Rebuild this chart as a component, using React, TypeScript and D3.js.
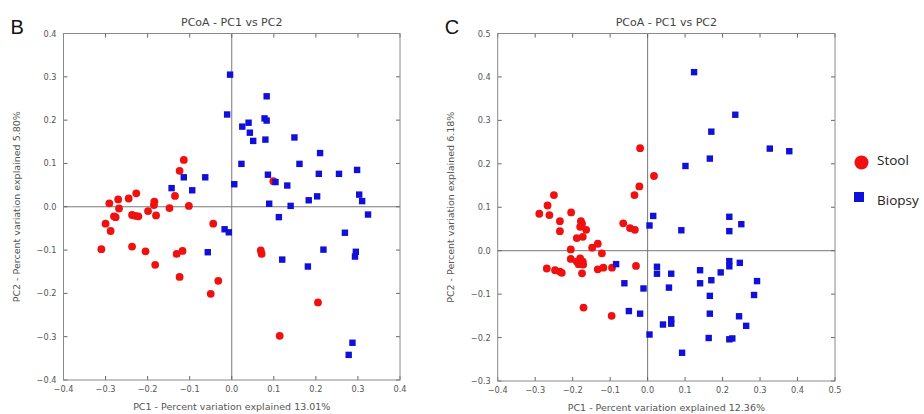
import React from "react";
import * as d3 from "d3";

type Pt = [number, number];

// Panel B: PCoA coordinates (PC1, PC2)
const stoolB: Pt[] = [
  [-0.114, 0.108], [-0.124, 0.083], [-0.135, 0.025], [-0.227, 0.031], [-0.245, 0.019],
  [-0.27, 0.017], [-0.291, 0.008], [-0.184, 0.012], [-0.185, 0.004], [-0.102, 0.002],
  [0.099, 0.059], [-0.268, -0.004], [-0.3, -0.039], [-0.28, -0.022], [-0.276, -0.024],
  [-0.288, -0.056], [-0.237, -0.019], [-0.229, -0.021], [-0.222, -0.022], [-0.199, -0.01],
  [-0.18, -0.02], [-0.148, -0.003], [-0.044, -0.039], [-0.31, -0.098], [-0.237, -0.092],
  [-0.205, -0.103], [-0.182, -0.134], [-0.131, -0.109], [-0.117, -0.102], [-0.124, -0.162],
  [-0.032, -0.171], [-0.05, -0.201], [0.069, -0.101], [0.071, -0.109], [0.205, -0.221],
  [0.114, -0.298],
];
const biopsyB: Pt[] = [
  [-0.004, 0.305], [-0.011, 0.213], [0.083, 0.255], [0.078, 0.204], [0.083, 0.199],
  [0.025, 0.185], [0.04, 0.194], [0.043, 0.171], [0.051, 0.152], [0.08, 0.155],
  [0.149, 0.16], [0.21, 0.124], [0.023, 0.099], [0.161, 0.099], [0.086, 0.074],
  [0.104, 0.057], [0.006, 0.052], [0.132, 0.049], [0.207, 0.076], [0.255, 0.076],
  [0.298, 0.085], [0.303, 0.028], [0.31, 0.013], [0.089, 0.007], [0.14, 0.002],
  [0.183, 0.015], [0.203, 0.024], [-0.063, 0.068], [-0.114, 0.068], [-0.094, 0.038],
  [-0.143, 0.043], [0.112, -0.024], [0.324, -0.018], [0.269, -0.06], [-0.017, -0.052],
  [-0.007, -0.059], [-0.057, -0.105], [0.12, -0.122], [0.218, -0.099], [0.181, -0.138],
  [0.295, -0.104], [0.293, -0.115], [0.287, -0.314], [0.278, -0.342],
];

// Panel C: PCoA coordinates (PC1, PC2)
const stoolC: Pt[] = [
  [-0.02, 0.236], [0.017, 0.172], [-0.022, 0.148], [-0.035, 0.128], [-0.25, 0.128],
  [-0.267, 0.104], [-0.289, 0.085], [-0.262, 0.082], [-0.234, 0.068], [-0.234, 0.045],
  [-0.204, 0.088], [-0.178, 0.068], [-0.175, 0.062], [-0.18, 0.055], [-0.164, 0.048],
  [-0.189, 0.029], [-0.173, 0.032], [-0.205, 0.003], [-0.133, 0.016], [-0.148, 0.007],
  [-0.122, -0.006], [-0.065, 0.063], [-0.047, 0.052], [-0.034, 0.048], [-0.205, -0.019],
  [-0.189, -0.025], [-0.18, -0.018], [-0.173, -0.025], [-0.184, -0.031], [-0.172, -0.032],
  [-0.269, -0.041], [-0.247, -0.045], [-0.234, -0.048], [-0.229, -0.051], [-0.175, -0.052],
  [-0.133, -0.043], [-0.118, -0.039], [-0.095, -0.039], [-0.031, -0.035], [-0.171, -0.131],
  [-0.096, -0.15],
];
const biopsyC: Pt[] = [
  [0.124, 0.411], [0.234, 0.313], [0.17, 0.274], [0.166, 0.212], [0.101, 0.195],
  [0.326, 0.235], [0.378, 0.229], [0.015, 0.08], [0.005, 0.058], [0.09, 0.047],
  [0.218, 0.078], [0.218, 0.045], [0.25, 0.061], [-0.084, -0.031], [0.025, -0.037],
  [0.025, -0.053], [0.063, -0.053], [0.14, -0.045], [0.218, -0.024], [0.218, -0.036],
  [0.246, -0.028], [0.195, -0.05], [0.17, -0.068], [0.14, -0.075], [-0.062, -0.075],
  [-0.011, -0.087], [0.057, -0.085], [0.166, -0.104], [0.292, -0.07], [0.284, -0.102],
  [-0.05, -0.139], [-0.02, -0.145], [0.063, -0.158], [0.063, -0.168], [0.041, -0.17],
  [0.166, -0.145], [0.244, -0.151], [0.263, -0.173], [0.005, -0.193], [0.092, -0.235],
  [0.163, -0.201], [0.218, -0.204], [0.226, -0.202],
];

const xTicksB = [-0.4, -0.3, -0.2, -0.1, 0.0, 0.1, 0.2, 0.3, 0.4];
const yTicksB = [-0.4, -0.3, -0.2, -0.1, 0.0, 0.1, 0.2, 0.3, 0.4];
const xTicksC = [-0.4, -0.3, -0.2, -0.1, 0.0, 0.1, 0.2, 0.3, 0.4, 0.5];
const yTicksC = [-0.3, -0.2, -0.1, 0.0, 0.1, 0.2, 0.3, 0.4, 0.5];

const legendLabels = ["Stool", "Biopsy"];
const RED = "#f01010";
const BLUE = "#1010d8";
const FONT = "DejaVu Sans, sans-serif";

const fmt = (v: number) => d3.format(".1f")(v).replace("-", "\u2212");

interface PanelProps {
  letter: string;
  left: number;
  right: number;
  top: number;
  bottom: number;
  xTicks: number[];
  yTicks: number[];
  stool: Pt[];
  biopsy: Pt[];
  xLabel: string;
  yLabel: string;
}

function Panel(p: PanelProps) {
  const x = d3.scaleLinear().domain([p.xTicks[0], p.xTicks[p.xTicks.length - 1]]).range([p.left, p.right]);
  const y = d3.scaleLinear().domain([p.yTicks[0], p.yTicks[p.yTicks.length - 1]]).range([p.bottom, p.top]);
  const cx = (p.left + p.right) / 2;
  const cy = (p.top + p.bottom) / 2;
  const tl = 4;
  const frame = "#8a8a8a";
  const tickColor = "#666";
  const sq = 6.4;
  return (
    <g>
      <text x={p.left - 53} y={34} fontFamily="Liberation Sans, Arial, sans-serif" fontSize={20} fill="#111">
        {p.letter}
      </text>
      <text x={cx} y={26} textAnchor="middle" fontFamily={FONT} fontSize={11} fill="#444">
        PCoA - PC1 vs PC2
      </text>
      {/* zero lines */}
      <line x1={x(0)} x2={x(0)} y1={p.top} y2={p.bottom} stroke="#777" strokeWidth={1} />
      <line x1={p.left} x2={p.right} y1={y(0)} y2={y(0)} stroke="#777" strokeWidth={1} />
      {/* inward ticks on all sides */}
      {p.xTicks.map((t, i) => (
        <g key={"xt" + i}>
          <line x1={x(t)} x2={x(t)} y1={p.bottom} y2={p.bottom - tl} stroke={tickColor} />
          <line x1={x(t)} x2={x(t)} y1={p.top} y2={p.top + tl} stroke={tickColor} />
          <text x={x(t)} y={p.bottom + 12} textAnchor="middle" fontFamily={FONT} fontSize={8.2} fill="#555">
            {fmt(t)}
          </text>
        </g>
      ))}
      {p.yTicks.map((t, i) => (
        <g key={"yt" + i}>
          <line x1={p.left} x2={p.left + tl} y1={y(t)} y2={y(t)} stroke={tickColor} />
          <line x1={p.right} x2={p.right - tl} y1={y(t)} y2={y(t)} stroke={tickColor} />
          <text x={p.left - 7} y={y(t) + 3} textAnchor="end" fontFamily={FONT} fontSize={8.2} fill="#555">
            {fmt(t)}
          </text>
        </g>
      ))}
      <rect x={p.left} y={p.top} width={p.right - p.left} height={p.bottom - p.top} fill="none" stroke={frame} strokeWidth={1} />
      {p.stool.map((d, i) => (
        <circle key={"s" + i} cx={x(d[0])} cy={y(d[1])} r={3.9} fill={RED} />
      ))}
      {p.biopsy.map((d, i) => (
        <rect key={"b" + i} x={x(d[0]) - sq / 2} y={y(d[1]) - sq / 2} width={sq} height={sq} fill={BLUE} />
      ))}
      <text x={cx} y={p.bottom + 30} textAnchor="middle" fontFamily={FONT} fontSize={9.5} fill="#555">
        {p.xLabel}
      </text>
      <text
        transform={`translate(${p.left - 43.5},${cy}) rotate(-90)`}
        textAnchor="middle"
        fontFamily={FONT}
        fontSize={9.5}
        fill="#555"
      >
        {p.yLabel}
      </text>
    </g>
  );
}

export default function App() {
  return (
    <svg
      width={924}
      height={414}
      style={{ position: "absolute", left: 0, top: 0, background: "#fff" }}
    >
      <rect width={924} height={414} fill="#fff" />
      <Panel
        letter="B"
        left={63.5}
        right={400}
        top={33.5}
        bottom={380}
        xTicks={xTicksB}
        yTicks={yTicksB}
        stool={stoolB}
        biopsy={biopsyB}
        xLabel="PC1 - Percent variation explained 13.01%"
        yLabel="PC2 - Percent variation explained 5.80%"
      />
      <Panel
        letter="C"
        left={497.7}
        right={835}
        top={33.5}
        bottom={381}
        xTicks={xTicksC}
        yTicks={yTicksC}
        stool={stoolC}
        biopsy={biopsyC}
        xLabel="PC1 - Percent variation explained 12.36%"
        yLabel="PC2 - Percent variation explained 6.18%"
      />
      {/* legend */}
      <circle cx={861.5} cy={162.5} r={7} fill={RED} />
      <text x={877} y={165} fontFamily="Open Sans, sans-serif" fontSize={13.5} fill="#222">
        {legendLabels[0]}
      </text>
      <rect x={854} y={192} width={10} height={10} fill={BLUE} />
      <text x={877} y={205} fontFamily="Open Sans, sans-serif" fontSize={13.5} fill="#222">
        {legendLabels[1]}
      </text>
    </svg>
  );
}
